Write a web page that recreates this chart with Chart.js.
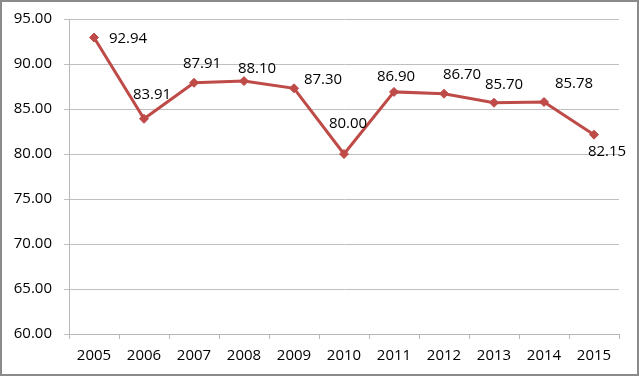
<!DOCTYPE html>
<html>
<head>
<meta charset="utf-8">
<script src="https://cdn.jsdelivr.net/npm/chart.js@4/dist/chart.umd.min.js"></script>
<style>
  html, body { margin: 0; padding: 0; background: #fff; }
  #wrap {
    width: 639px; height: 376px; box-sizing: border-box;
    border: 2px solid #8a8a8a; position: relative; background: #fff;
  }
  #chart { display: block; }
</style>
</head>
<body>
<div id="wrap"><canvas id="chart" width="635" height="372"></canvas></div>
<script>
const years = ['2005', '2006', '2007', '2008', '2009', '2010', '2011', '2012', '2013', '2014', '2015'];
const values = [92.94, 83.91, 87.91, 88.10, 87.30, 80.00, 86.90, 86.70, 85.70, 85.78, 82.15];
const yTicks = [60, 65, 70, 75, 80, 85, 90, 95];

// where each value label sits relative to its point (px)
const labelShift = [
  [34, 1], [8, -24], [8, -19], [13, -12], [29, -9], [4, -30],
  [2, -15], [18, -19], [10, -18], [30, -18], [13, 17]
];

const FONT = '"Open Sans", "Liberation Sans", sans-serif';
const RED = '#be4b48';

// Draw the value labels next to the points
const valueLabels = {
  id: 'valueLabels',
  afterDatasetsDraw(chart) {
    const { ctx } = chart;
    const meta = chart.getDatasetMeta(0);
    ctx.save();
    ctx.font = '15px ' + FONT;
    ctx.fillStyle = '#000';
    ctx.textAlign = 'center';
    ctx.textBaseline = 'middle';
    meta.data.forEach((pt, i) => {
      const [dx, dy] = labelShift[i];
      ctx.fillText(values[i].toFixed(2), pt.x + dx, pt.y + dy);
    });
    ctx.restore();
  }
};

new Chart(document.getElementById('chart'), {
  type: 'line',
  data: {
    labels: years,
    datasets: [
      {
        data: values,
        borderColor: RED,
        backgroundColor: RED,
        borderWidth: 3,
        pointStyle: 'rectRot',
        pointRadius: 4.5,
        pointBorderWidth: 1,
        tension: 0
      }
    ]
  },
  options: {
    responsive: false,
    animation: false,
    layout: { padding: { top: 17, right: 18, left: 0, bottom: 0 } },
    plugins: {
      legend: { display: false },
      tooltip: { enabled: false }
    },
    scales: {
      x: {
        offset: true,
        grid: {
          offset: true,
          drawOnChartArea: false,
          drawTicks: true,
          tickLength: 5,
          color: '#b8b8b8'
        },
        border: { color: '#b8b8b8' },
        ticks: {
          color: '#000',
          padding: 8,
          font: { family: FONT, size: 15 }
        },
        afterFit(scale) {
          scale.height = 40;
          scale.paddingLeft = 0;
          scale.paddingRight = 0;
        }
      },
      y: {
        min: 60,
        max: 95,
        afterBuildTicks(scale) { scale.ticks = yTicks.map(v => ({ value: v })); },
        grid: { color: '#bfbfbf', tickLength: 5 },
        border: { color: '#b8b8b8' },
        ticks: {
          color: '#000',
          padding: 12,
          font: { family: FONT, size: 15 },
          callback: v => Number(v).toFixed(2)
        },
        afterFit(scale) {
          scale.width = 67;
          scale.paddingTop = 0;
          scale.paddingBottom = 0;
        }
      }
    }
  },
  plugins: [valueLabels]
});
</script>
</body>
</html>
